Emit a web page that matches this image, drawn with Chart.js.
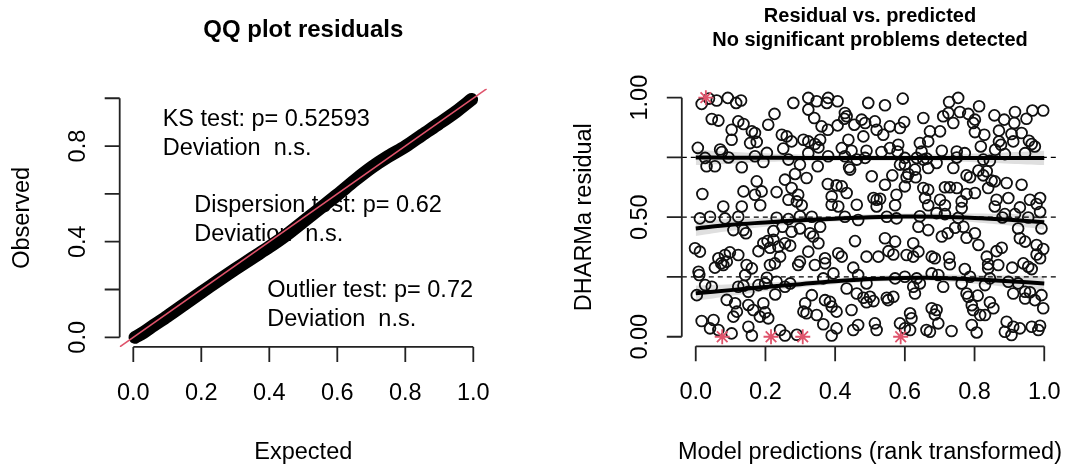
<!DOCTYPE html>
<html><head><meta charset="utf-8">
<script src="https://cdn.jsdelivr.net/npm/chart.js@4.4.1/dist/chart.umd.min.js"></script>
<style>
html,body{margin:0;padding:0;background:#fff;overflow:hidden}
#wrap{position:relative;width:1072px;height:464px;background:#fff}
canvas{position:absolute;top:0}
</style></head><body>
<div id="wrap">
<canvas id="qq" width="536" height="464" style="left:0"></canvas>
<canvas id="res" width="536" height="464" style="left:536px"></canvas>
</div>
<script>
// ---------------- data ----------------
const axisRange = [-0.04, 1.04];

// QQ plot (expected vs observed quantiles of scaled residuals)
const qqExpected = [0.005,0.03,0.06,0.10,0.15,0.20,0.25,0.30,0.35,0.40,0.45,0.50,0.55,0.60,0.65,0.70,0.75,0.80,0.85,0.90,0.95,0.995];
const qqObserved = [0.000,0.020,0.050,0.088,0.138,0.188,0.237,0.285,0.332,0.378,0.428,0.484,0.540,0.596,0.655,0.710,0.757,0.798,0.847,0.895,0.945,0.995];
const qqTexts = [
  ["KS test: p= 0.52593", "Deviation  n.s."],
  ["Dispersion test: p= 0.62", "Deviation  n.s."],
  ["Outlier test: p= 0.72", "Deviation  n.s."]
];

// Residual vs predicted: [rank-transformed prediction, DHARMa residual]
const residualPoints = [
 [.017,.974],[.038,.996],[.060,.988],[.092,.999],[.116,.978],[.130,.988],[.280,.978],[.226,.932],[.046,.911],[.065,.904],
 [.122,.901],[.137,.890],[.208,.887],[.103,.866],[.161,.859],[.170,.852],[.247,.845],[.261,.838],[.103,.824],[.156,.810],
 [.175,.815],[.275,.817],[.309,.824],[.006,.790],[.070,.783],[.075,.773],[.204,.769],[.251,.787],[.027,.748],[.094,.750],
 [.170,.755],[.266,.741],[.031,.713],[.055,.713],[.132,.709],[.194,.731],[.299,.720],[.285,.681],[.256,.657],[.175,.650],
 [.137,.608],[.170,.594],[.189,.608],[.232,.605],[.019,.597],[.275,.622],[.294,.594],[.266,.573],[.290,.566],[.304,.550],
 [.185,.550],[.079,.545],[.132,.545],[.299,.504],
 [.323,.999],[.347,.985],[.380,.999],[.376,.978],[.407,.985],[.495,.978],[.543,.968],[.594,.996],[.323,.950],[.340,.915],
 [.361,.880],[.428,.936],[.433,.922],[.426,.912],[.379,.866],[.407,.884],[.455,.887],[.476,.908],[.486,.894],[.514,.901],
 [.519,.866],[.557,.880],[.598,.898],[.586,.873],[.653,.915],[.481,.838],[.538,.845],[.438,.824],[.357,.824],[.323,.817],
 [.342,.806],[.352,.792],[.419,.789],[.447,.778],[.490,.778],[.533,.773],[.557,.789],[.581,.803],[.579,.775],[.643,.810],
 [.648,.775],[.323,.768],[.380,.755],[.428,.755],[.462,.741],[.486,.748],[.600,.748],[.634,.748],[.653,.741],[.350,.713],
 [.440,.709],[.443,.699],[.586,.720],[.600,.720],[.629,.699],[.610,.681],[.505,.671],[.564,.675],[.605,.667],[.631,.667],
 [.318,.664],[.379,.639],[.404,.633],[.419,.629],[.543,.636],[.600,.629],[.653,.622],[.433,.601],[.390,.587],[.510,.580],
 [.519,.573],[.529,.577],[.576,.594],[.390,.552],[.409,.545],[.462,.552],[.519,.545],[.572,.550],[.658,.580],[.643,.504],
 [.727,.982],[.753,.999],[.813,.964],[.710,.922],[.725,.936],[.739,.894],[.758,.940],[.782,.932],[.801,.908],[.796,.894],
 [.857,.926],[.885,.908],[.916,.940],[.914,.894],[.949,.912],[.966,.946],[.997,.946],[.672,.859],[.701,.859],[.801,.856],
 [.828,.845],[.870,.862],[.906,.848],[.935,.852],[.667,.817],[.870,.817],[.876,.803],[.911,.817],[.956,.820],[.973,.796],
 [.964,.806],[.818,.796],[.706,.778],[.749,.775],[.772,.768],[.859,.782],[.887,.764],[.945,.768],[.663,.745],[.749,.750],
 [.691,.727],[.667,.706],[.739,.706],[.825,.741],[.844,.736],[.777,.675],[.787,.667],[.811,.695],[.835,.692],[.825,.675],
 [.849,.653],[.858,.650],[.892,.643],[.935,.636],[.715,.625],[.729,.625],[.749,.622],[.667,.615],[.777,.597],[.801,.601],
 [.839,.622],[.701,.573],[.763,.566],[.863,.573],[.897,.580],[.959,.573],[.988,.580],[.978,.555],[.667,.550],[.715,.550],
 [.763,.538],[.858,.545],[.930,.541],[.691,.517],[.715,.513],[.887,.513],[.916,.513],[.988,.522],[.753,.497],[.880,.499],
 [.954,.499],
 [.012,.495],[.041,.502],[.084,.495],[.122,.502],[.232,.498],[.266,.492],[.108,.446],[.137,.446],[.144,.433],[.223,.442],
 [.249,.460],[.275,.439],[.299,.453],[-.002,.370],[.012,.356],[.065,.328],[.084,.342],[.098,.353],[.073,.307],[.089,.314],
 [.122,.342],[.055,.289],[.079,.300],[.180,.358],[.194,.391],[.206,.400],[.213,.372],[.223,.405],[.237,.377],[.256,.391],
 [.271,.381],[.242,.335],[.213,.300],[.227,.307],[.299,.314],[.294,.300],[.146,.300],[.161,.286],[.142,.258],[.008,.272],
 [.010,.258],[.204,.247],[.027,.216],[.122,.209],[.137,.213],[.180,.216],[.199,.223],[.232,.230],[.256,.209],[.271,.223],
 [.003,.174],[.046,.209],[.151,.188],[.228,.177],[.089,.154],[.113,.140],[.118,.105],[.108,.084],[.151,.133],[.165,.112],
 [.194,.140],[.199,.102],[.208,.077],[.184,.084],[.309,.105],[.017,.066],[.051,.070],[.041,.035],[.065,.028],[.103,.014],
 [.151,.042],[.161,.005],[.242,.028],[.256,.005],[.290,.008],[.314,.140],
 [.333,.502],[.357,.460],[.328,.433],[.337,.419],[.352,.391],[.428,.502],[.466,.488],[.548,.502],[.576,.495],[.639,.460],
 [.457,.400],[.543,.412],[.572,.398],[.624,.391],[.639,.356],[.323,.356],[.409,.349],[.419,.335],[.371,.328],[.490,.335],
 [.524,.335],[.553,.358],[.567,.344],[.605,.342],[.624,.335],[.342,.300],[.371,.307],[.452,.289],[.466,.258],[.395,.265],
 [.366,.244],[.490,.223],[.433,.202],[.462,.181],[.481,.163],[.500,.167],[.510,.149],[.490,.144],[.548,.163],[.567,.167],
 [.552,.153],[.572,.244],[.600,.251],[.634,.244],[.624,.209],[.643,.223],[.629,.181],[.333,.174],[.318,.098],[.371,.153],
 [.385,.146],[.390,.126],[.404,.105],[.347,.091],[.447,.112],[.466,.049],[.452,.028],[.514,.056],[.519,.028],[.366,.052],
 [.404,.035],[.390,.005],[.586,.056],[.615,.098],[.619,.077],[.615,.028],[.600,.035],[.662,.028],
 [.667,.446],[.706,.419],[.723,.433],[.744,.456],[.768,.460],[.777,.414],[.801,.433],[.811,.384],[.925,.453],[.930,.412],
 [.945,.398],[.992,.453],[.978,.384],[.997,.367],[.677,.335],[.686,.328],[.727,.331],[.729,.303],[.835,.335],[.863,.358],
 [.878,.372],[.839,.303],[.839,.286],[.868,.300],[.908,.289],[.940,.307],[.954,.293],[.964,.283],[.978,.344],[.988,.328],
 [.772,.283],[.677,.265],[.696,.258],[.787,.251],[.844,.244],[.710,.209],[.763,.223],[.830,.216],[.897,.230],[.925,.223],
 [.777,.181],[.782,.167],[.809,.172],[.911,.181],[.945,.188],[.959,.186],[.945,.160],[.973,.153],[.992,.174],[.997,.119],
 [.844,.144],[.854,.119],[.792,.132],[.796,.112],[.816,.091],[.830,.091],[.677,.119],[.691,.112],[.686,.093],[.696,.056],
 [.672,.021],[.734,.024],[.792,.049],[.806,.018],[.892,.063],[.887,.021],[.911,.042],[.930,.035],[.906,.007],[.964,.042],
 [.988,.046],[.983,.028]
];
// outliers (drawn as red stars)
const outlierX = [0.029, 0.076, 0.216, 0.307, 0.588];
const outlierY = [1.000, 0.000, 0.000, 0.000, 0.000];

// quantile regressions (0.25, 0.5, 0.75) with confidence bands
const qX    = [0,0.1,0.2,0.3,0.4,0.5,0.6,0.7,0.8,0.9,1.0];
const q25   = [.182,.195,.208,.220,.232,.241,.246,.246,.240,.232,.223];
const q25lo = [.150,.170,.190,.206,.220,.229,.234,.232,.222,.208,.193];
const q25hi = [.214,.220,.226,.234,.244,.253,.258,.260,.258,.256,.253];
const q50   = [.453,.468,.478,.487,.494,.500,.503,.502,.497,.489,.479];
const q50lo = [.421,.443,.460,.473,.482,.488,.491,.488,.479,.465,.449];
const q50hi = [.485,.493,.496,.501,.506,.512,.515,.516,.515,.513,.509];
const q75   = [.750,.749,.749,.748,.748,.748,.748,.748,.748,.748,.748];
const q75lo = [.718,.724,.731,.734,.736,.736,.736,.734,.730,.724,.718];
const q75hi = [.782,.774,.767,.762,.760,.760,.760,.762,.766,.772,.778];
const quantileRefs = [0.25, 0.5, 0.75];

// axes
const qqXTicks = [0,0.2,0.4,0.6,0.8,1.0], qqXLabels = ['0.0','0.2','0.4','0.6','0.8','1.0'];
const qqYTicks = [0,0.2,0.4,0.6,0.8,1.0], qqYLabels = ['0.0','','0.4','','0.8',''];
const resXTicks = [0,0.2,0.4,0.6,0.8,1.0], resXLabels = ['0.0','0.2','0.4','0.6','0.8','1.0'];
const resYTicks = [0,0.25,0.5,0.75,1.0], resYLabels = ['0.00','','0.50','','1.00'];

// ---------------- drawing ----------------
const FONT = '"Liberation Sans", Arial, Helvetica, sans-serif';
const RED = '#DF536B';
const xy = (xs, ys) => xs.map((v, i) => ({x: v, y: ys[i]}));

function rAxes(spec) {
  return {
    id: 'rAxes',
    beforeDatasetsDraw(chart) { if (spec.inside) spec.inside(chart); },
    afterDraw(chart) {
      const ctx = chart.ctx, a = chart.chartArea, x = chart.scales.x, y = chart.scales.y;
      ctx.save();
      ctx.strokeStyle = '#222'; ctx.lineWidth = 1.8; ctx.fillStyle = '#000';
      ctx.beginPath();
      const xb = a.bottom, yl = a.left;
      ctx.moveTo(x.getPixelForValue(spec.xTicks[0]), xb);
      ctx.lineTo(x.getPixelForValue(spec.xTicks[spec.xTicks.length - 1]), xb);
      spec.xTicks.forEach(v => { const p = x.getPixelForValue(v); ctx.moveTo(p, xb); ctx.lineTo(p, xb + 15); });
      ctx.moveTo(yl, y.getPixelForValue(spec.yTicks[0]));
      ctx.lineTo(yl, y.getPixelForValue(spec.yTicks[spec.yTicks.length - 1]));
      spec.yTicks.forEach(v => { const p = y.getPixelForValue(v); ctx.moveTo(yl, p); ctx.lineTo(yl - 15, p); });
      ctx.stroke();
      ctx.font = '23.5px ' + FONT; ctx.textAlign = 'center'; ctx.textBaseline = 'alphabetic';
      spec.xTicks.forEach((v, i) => ctx.fillText(spec.xLabels[i], x.getPixelForValue(v), xb + 53));
      spec.yTicks.forEach((v, i) => {
        if (!spec.yLabels[i]) return;
        ctx.save(); ctx.translate(yl - 34.5, y.getPixelForValue(v)); ctx.rotate(-Math.PI / 2);
        ctx.fillText(spec.yLabels[i], 0, 0); ctx.restore();
      });
      const cx = (a.left + a.right) / 2, cy = (a.top + a.bottom) / 2;
      ctx.fillText(spec.xTitle, cx, 458.5);
      ctx.save(); ctx.translate(yl - 91, cy); ctx.rotate(-Math.PI / 2); ctx.fillText(spec.yTitle, 0, 0); ctx.restore();
      ctx.font = 'bold ' + spec.titleSize + 'px ' + FONT;
      spec.title.forEach((t, i) => ctx.fillText(t, cx, spec.titleY[i]));
      ctx.restore();
    }
  };
}

const baseOpts = (pad) => ({
  responsive: false, animation: false, devicePixelRatio: 1, events: [],
  layout: {padding: pad},
  plugins: {legend: {display: false}, tooltip: {enabled: false}},
  scales: {
    x: {type: 'linear', min: axisRange[0], max: axisRange[1], display: false},
    y: {type: 'linear', min: axisRange[0], max: axisRange[1], display: false}
  }
});

// ---- left: QQ plot ----
new Chart(document.getElementById('qq'), {
  type: 'scatter',
  data: {datasets: [
    {type: 'line', data: xy(axisRange, axisRange), borderColor: RED, borderWidth: 1.6, pointRadius: 0, order: 0},
    {type: 'line', data: xy(qqExpected, qqObserved), borderColor: '#000', borderWidth: 13, pointRadius: 0,
     borderCapStyle: 'round', borderJoinStyle: 'round', tension: 0.3, order: 1}
  ]},
  options: baseOpts({left: 119.7, right: 49.1, top: 88.7, bottom: 117.1}),
  plugins: [rAxes({
    xTicks: qqXTicks, xLabels: qqXLabels, yTicks: qqYTicks, yLabels: qqYLabels,
    xTitle: 'Expected', yTitle: 'Observed', title: ['QQ plot residuals'], titleY: [36.5], titleSize: 24,
    inside(chart) {
      const ctx = chart.ctx, a = chart.chartArea;
      const pos = [[a.left + 43, a.top + 37.3], [a.left + 74.6, a.top + 123.3], [a.left + 147.6, a.top + 208]];
      ctx.save(); ctx.font = '23.5px ' + FONT; ctx.fillStyle = '#000'; ctx.textAlign = 'left';
      qqTexts.forEach((lines, i) => lines.forEach((t, j) => ctx.fillText(t, pos[i][0], pos[i][1] + j * 29.3)));
      ctx.restore();
    }
  })]
});

// ---- right: residual vs predicted ----
const bandStyle = {type: 'line', pointRadius: 0, borderWidth: 0, tension: 0.4, order: 2};
new Chart(document.getElementById('res'), {
  type: 'scatter',
  data: {datasets: [
    {type: 'line', data: xy(qX, q25), borderColor: '#000', borderWidth: 4, pointRadius: 0, tension: 0.4, order: 0},
    {type: 'line', data: xy(qX, q50), borderColor: '#000', borderWidth: 4, pointRadius: 0, tension: 0.4, order: 0},
    {type: 'line', data: xy(qX, q75), borderColor: '#000', borderWidth: 4, pointRadius: 0, tension: 0.4, order: 0},
    {...bandStyle, data: xy(qX, q25lo), fill: false},
    {...bandStyle, data: xy(qX, q25hi), fill: '-1', backgroundColor: 'rgba(0,0,0,0.125)'},
    {...bandStyle, data: xy(qX, q50lo), fill: false},
    {...bandStyle, data: xy(qX, q50hi), fill: '-1', backgroundColor: 'rgba(0,0,0,0.125)'},
    {...bandStyle, data: xy(qX, q75lo), fill: false},
    {...bandStyle, data: xy(qX, q75hi), fill: '-1', backgroundColor: 'rgba(0,0,0,0.125)'},
    {type: 'scatter', data: xy(outlierX, outlierY), pointStyle: 'star', pointRadius: 7.5,
     pointBorderColor: RED, pointBorderWidth: 1.8, pointBackgroundColor: RED, order: 1},
    {type: 'scatter', data: residualPoints.map(p => ({x: p[0], y: p[1]})), pointStyle: 'circle', pointRadius: 5.4,
     pointBorderColor: '#111', pointBorderWidth: 1.8, pointBackgroundColor: 'rgba(0,0,0,0)', order: 3}
  ]},
  options: baseOpts({left: 145.8, right: 13.8, top: 88.1, bottom: 117.7}),
  plugins: [rAxes({
    xTicks: resXTicks, xLabels: resXLabels, yTicks: resYTicks, yLabels: resYLabels,
    xTitle: 'Model predictions (rank transformed)', yTitle: 'DHARMa residual',
    title: ['Residual vs. predicted', 'No significant problems detected'], titleY: [22, 46], titleSize: 20,
    inside(chart) {
      const ctx = chart.ctx, a = chart.chartArea, y = chart.scales.y;
      ctx.save(); ctx.strokeStyle = '#000'; ctx.lineWidth = 1.3; ctx.setLineDash([5, 4]);
      ctx.beginPath();
      quantileRefs.forEach(v => { const p = y.getPixelForValue(v); ctx.moveTo(a.left, p); ctx.lineTo(a.right, p); });
      ctx.stroke(); ctx.restore();
    }
  })]
});
</script>
</body></html>
